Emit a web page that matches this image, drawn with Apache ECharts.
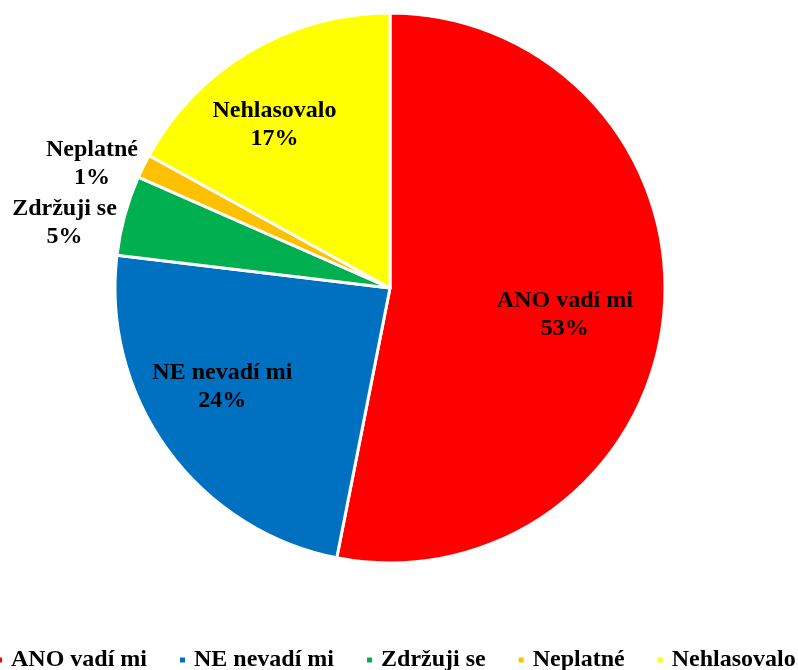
<!DOCTYPE html>
<html><head><meta charset="utf-8">
<script src="https://cdn.jsdelivr.net/npm/echarts@6/dist/echarts.min.js"></script>
<style>html,body{margin:0;padding:0;background:#fff}#c{width:798px;height:670px}</style>
</head><body><div id="c"></div>
<script>
const categories = ['ANO vadí mi', 'NE nevadí mi', 'Zdržuji se', 'Neplatné', 'Nehlasovalo'];
const values = [53.1, 23.8, 4.7, 1.4, 17.0];
const colors = ['#FF0000', '#0070C0', '#00B050', '#FFC000', '#FFFF00'];
const labelOffsets = [[35, 13], [-54, 16], [-190, -28], [-172, -62], [-44, -42]];

const FONT = '"Liberation Serif", "Times New Roman", serif';
const chart = echarts.init(document.getElementById('c'));
chart.setOption({
  animation: false,
  color: colors,
  legend: {
    left: -5, top: 648, width: 1000, padding: 0,
    icon: 'rect', itemWidth: 7, itemHeight: 7, itemGap: 31,
    textStyle: { fontFamily: FONT, fontWeight: 'bold', fontSize: 24, color: '#000', padding: [0, 0, 0, 3] },
    data: categories
  },
  series: [{
    type: 'pie',
    center: [390, 288],
    radius: 275,
    startAngle: 90,
    clockwise: true,
    avoidLabelOverlap: false,
    percentPrecision: 0,
    itemStyle: { borderColor: '#fff', borderWidth: 3 },
    label: {
      position: 'inside',
      formatter: '{b}\n{d}%',
      fontFamily: FONT, fontWeight: 'bold', fontSize: 24, lineHeight: 28,
      color: '#000', align: 'center'
    },
    labelLine: { show: false },
    data: categories.map((n, i) => ({
      name: n, value: values[i],
      label: { offset: labelOffsets[i] }
    }))
  }]
});
</script></body></html>
